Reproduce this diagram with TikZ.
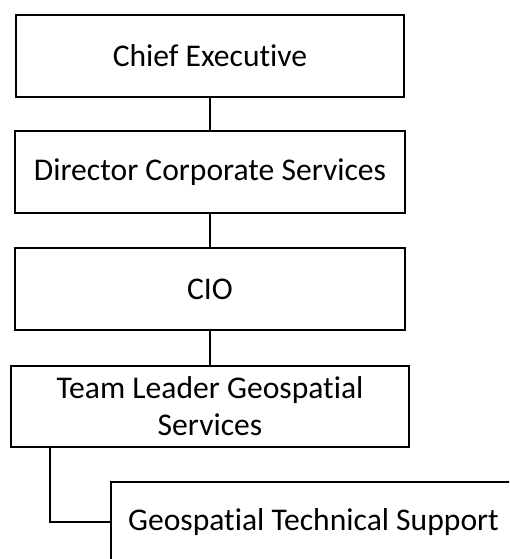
\documentclass[tikz,border=0pt]{standalone}
\usepackage{fontspec}
\setmainfont[Ligatures=NoCommon]{Carlito}
\usetikzlibrary{calc}
\begin{document}
\begin{tikzpicture}[x=1pt,y=-1pt,
  orgbox/.style={draw=black,line width=1.7pt,fill=white,rectangle,inner sep=0pt,
    align=center,font=\fontsize{31.6}{37}\selectfont},
  link/.style={draw=black,line width=1.7pt}]
  \useasboundingbox (0,0) rectangle (509,559);
  \clip (0,0) rectangle (509,559);
  % reporting boxes, top to bottom
  \node[orgbox,minimum width=388pt,minimum height=82pt] (ceo) at (210,56) {Chief Executive};
  \node[orgbox,minimum width=390pt,minimum height=82pt] (dcs) at (210,172) {Director Corporate Services};
  \node[orgbox,minimum width=390pt,minimum height=82pt] (cio) at (210,289) {CIO};
  \node[orgbox,minimum width=398pt,minimum height=81pt] (tl) at (210,406.5) {Team Leader Geospatial\\Services};
  \node[orgbox,minimum width=405pt,minimum height=80pt] (gts) at (313.5,522) {Geospatial Technical Support};
  % connectors
  \draw[link] (ceo.south) -- (dcs.north);
  \draw[link] (dcs.south) -- (cio.north);
  \draw[link] (cio.south) -- (tl.north);
  \coordinate (drop) at ($(tl.south west)+(40,0)$);
  \draw[link] (drop) |- (gts.west);
\end{tikzpicture}
\end{document}
